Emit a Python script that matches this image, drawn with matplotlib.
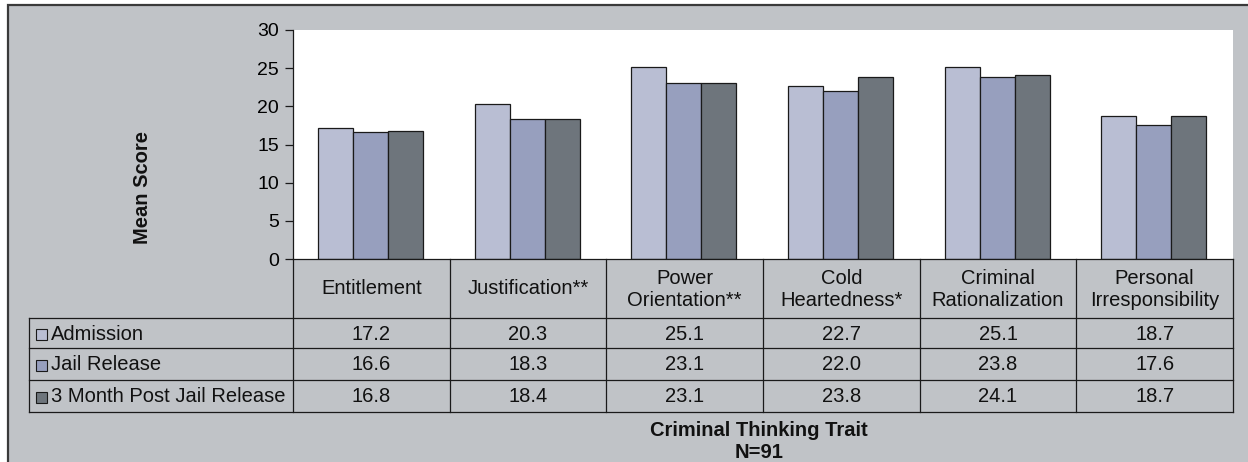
import numpy as np
import matplotlib
matplotlib.use("Agg")
import matplotlib.pyplot as plt
import matplotlib.transforms as mtransforms
from matplotlib.patches import Rectangle

traits = ["Entitlement", "Justification**", "Power\nOrientation**",
          "Cold\nHeartedness*", "Criminal\nRationalization", "Personal\nIrresponsibility"]
series = ["Admission", "Jail Release", "3 Month Post Jail Release"]
admission = [17.2, 20.3, 25.1, 22.7, 25.1, 18.7]
jail_release = [16.6, 18.3, 23.1, 22.0, 23.8, 17.6]
post_release = [16.8, 18.4, 23.1, 23.8, 24.1, 18.7]
colors = ["#b9bed3", "#979fbe", "#6e757c"]

W, H = 1248, 462


def fx(x):
    return x / W


def fy(y):
    return 1 - y / H


plt.rcParams['font.family'] = ['Liberation Sans', 'DejaVu Sans']
fs = 14.5
line_c = '#1a1a1a'

fig = plt.figure(figsize=(W / 100, H / 100), dpi=100)
fig.patch.set_facecolor('white')
# grey chart area with its dark border (runs past right and bottom edges)
bg = Rectangle((fx(8), fy(480)), 1.0, fy(5) - fy(480), transform=fig.transFigure,
               facecolor='#c0c3c7', edgecolor='#3a3a3a', linewidth=1.6, zorder=-5)
fig.patches.append(bg)

ax = fig.add_axes([fx(293), fy(259), fx(1233) - fx(293), fy(30) - fy(259)])
ax.set_facecolor('white')

x = np.arange(len(traits))
w = 0.2234
all_vals = [admission, jail_release, post_release]
for i, (vals, c) in enumerate(zip(all_vals, colors)):
    ax.bar(x + (i - 1) * w - 0.005, vals, w, color=c, edgecolor=line_c, linewidth=0.9)

ax.set_xlim(-0.5, len(traits) - 0.5)
ax.set_ylim(0, 30)
ax.set_yticks(range(0, 31, 5))
ax.tick_params(axis='y', length=6, width=0.9, pad=4, labelsize=fs - 0.5, color=line_c)
ax.set_xticks([])
for s in ['top', 'right', 'bottom']:
    ax.spines[s].set_visible(False)
ax.spines['left'].set_linewidth(0.9)
ax.spines['left'].set_color(line_c)

# data table under the plot
trans = mtransforms.blended_transform_factory(ax.transData, fig.transFigure)
rows_y = [259, 318, 348, 380, 412]
for b in np.arange(-0.5, len(traits)):
    ax.plot([b, b], [fy(259), fy(412)], transform=trans, color=line_c, lw=0.9, clip_on=False)
ax.plot([-0.5, len(traits) - 0.5], [fy(259)] * 2, transform=trans, color=line_c, lw=0.9, clip_on=False)
for ry in rows_y[1:]:
    fig.add_artist(plt.Line2D([fx(29), fx(1233)], [fy(ry)] * 2, color=line_c, lw=0.9))
fig.add_artist(plt.Line2D([fx(29)] * 2, [fy(318), fy(412)], color=line_c, lw=0.9))

for i, t in enumerate(traits):
    ax.text(i, fy(289), t, transform=trans, ha='center', va='center', fontsize=fs,
            linespacing=1.2, color='#111111')

row_centers = [334, 365, 397]
for r, (name, vals, c) in enumerate(zip(series, all_vals, colors)):
    yc = row_centers[r]
    for i, v in enumerate(vals):
        ax.text(i, fy(yc), f"{v:.1f}", transform=trans, ha='center', va='center',
                fontsize=fs, color='#111111')
    key = Rectangle((fx(36), fy(yc + 5.5)), fx(11), fy(yc - 5.5) - fy(yc + 5.5),
                    transform=fig.transFigure, facecolor=c, edgecolor=line_c,
                    linewidth=0.8, zorder=3)
    fig.patches.append(key)
    fig.text(fx(51), fy(yc), name, ha='left', va='center', fontsize=fs, color='#111111')

fig.text(fx(142), fy(187), "Mean Score", rotation=90, ha='center', va='center',
         fontsize=fs, fontweight='bold', color='#111111')
fig.text(fx(759), fy(430), "Criminal Thinking Trait", ha='center', va='center',
         fontsize=fs, fontweight='bold', color='#111111')
fig.text(fx(759), fy(453), "N=91", ha='center', va='center',
         fontsize=fs, fontweight='bold', color='#111111')

fig.savefig("out.png", dpi=100, facecolor=fig.get_facecolor())
